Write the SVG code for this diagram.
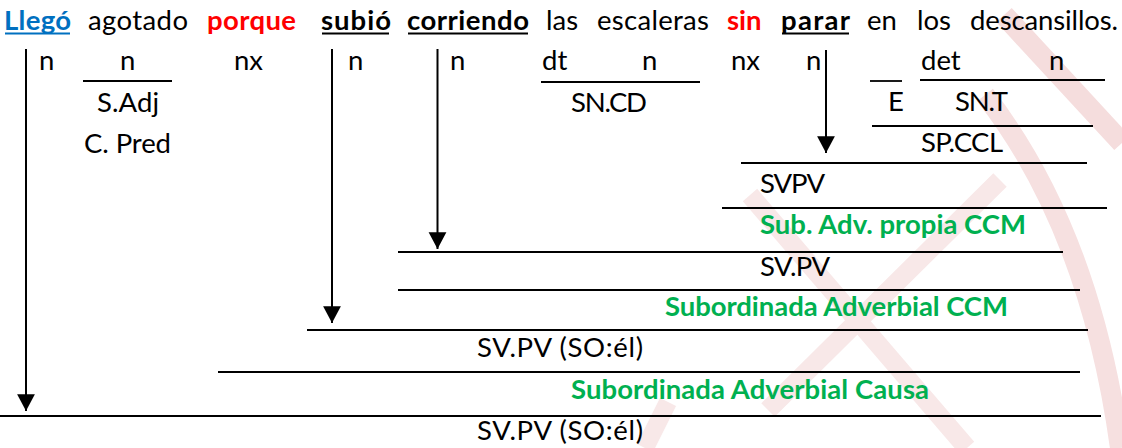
<svg xmlns="http://www.w3.org/2000/svg" width="1122" height="448" viewBox="0 0 1122 448">
<style>
text{font-family:Lato,"Open Sans","Liberation Sans",sans-serif;font-size:27.5px;fill:#000}
.b{font-weight:bold}
.blue{fill:#0070C0}
.red{fill:#FF0000}
.green{fill:#00B050;font-weight:bold}
.ln{stroke:#000;stroke-width:1.8;fill:none}
.ar{stroke:#000;stroke-width:2;fill:none;marker-end:url(#ah)}
.wm{fill:none;stroke-linecap:butt}
</style>
<defs>
<marker id="ah" markerUnits="userSpaceOnUse" markerWidth="20" markerHeight="20" viewBox="0 -9 16 18" refX="15" refY="0" orient="auto" overflow="visible">
<path d="M0,-8 L15,0 L0,8 z" fill="#000"/>
</marker>
</defs>
<rect width="1122" height="448" fill="#fff"/>
<g id="watermark" class="wm">
<path d="M1004 15 L1122 143" stroke="#f5dddd" stroke-width="21"/>
<path d="M985 95 Q1090 230 1120 448" stroke="#f6e0e0" stroke-width="20"/>
<path d="M750 195 L967 448" stroke="#f8e8e8" stroke-width="19"/>
<path d="M1000 180 L768 410" stroke="#f8e8e8" stroke-width="19"/>
<path d="M668 402 L645 448" stroke="#f8e8e8" stroke-width="18"/>
</g>
<g id="connectors">
<line class="ln" x1="83" y1="81" x2="172" y2="81"/>
<line class="ln" x1="541" y1="82" x2="700" y2="82"/>
<line class="ln" x1="870" y1="81" x2="902" y2="81"/>
<line class="ln" x1="920" y1="80" x2="1105" y2="80"/>
<line class="ln" x1="872" y1="126" x2="1093" y2="126"/>
<line class="ln" x1="741" y1="163" x2="1087" y2="163"/>
<line class="ln" x1="722" y1="208" x2="1107" y2="208"/>
<line class="ln" x1="398" y1="252" x2="1063" y2="252"/>
<line class="ln" x1="398" y1="290" x2="1080" y2="290"/>
<line class="ln" x1="307" y1="330" x2="1088" y2="330"/>
<line class="ln" x1="218" y1="372" x2="1080" y2="372"/>
<line class="ln" x1="0" y1="416" x2="1101" y2="416"/>
<line class="ar" x1="26" y1="49" x2="26" y2="411"/>
<line class="ar" x1="332" y1="49" x2="332" y2="323"/>
<line class="ar" x1="437.5" y1="49" x2="437.5" y2="249"/>
<line class="ar" x1="826" y1="50" x2="826" y2="153"/>
</g>
<g id="sentence">
<text x="4" y="30" class="b blue" textLength="67">Llegó</text>
<rect x="5" y="32.5" width="65" height="2" fill="#0070C0"/>
<text x="88" y="30" textLength="100">agotado</text>
<text x="207" y="30" class="b red" textLength="89">porque</text>
<text x="321" y="30" class="b" textLength="70">subió</text>
<rect x="322" y="32.5" width="67" height="2" fill="#000"/>
<text x="407" y="30" class="b" textLength="122">corriendo</text>
<rect x="408" y="32.5" width="120" height="2" fill="#000"/>
<text x="546" y="30">las</text>
<text x="597" y="30" textLength="112">escaleras</text>
<text x="727" y="30" class="b red">sin</text>
<text x="781" y="30" class="b" textLength="69">parar</text>
<rect x="782" y="32.5" width="67" height="2" fill="#000"/>
<text x="867" y="30">en</text>
<text x="917" y="30">los</text>
<text x="970" y="30" textLength="148">descansillos.</text>
</g>
<g id="n-llego"><text x="39" y="70">n</text></g>
<g id="n-agotado"><text x="120" y="70">n</text><text x="97" y="112" textLength="62">S.Adj</text><text x="84" y="153" textLength="87">C. Pred</text></g>
<g id="nx-porque"><text x="234" y="70">nx</text></g>
<g id="n-subio"><text x="348" y="70">n</text></g>
<g id="n-corriendo"><text x="450" y="70">n</text></g>
<g id="sn-cd"><text x="542" y="70">dt</text><text x="642" y="70">n</text><text x="571" y="112" textLength="76">SN.CD</text></g>
<g id="nx-sin"><text x="731" y="70">nx</text></g>
<g id="n-parar"><text x="806" y="70">n</text></g>
<g id="sp-ccl"><text x="921" y="70">det</text><text x="1049" y="70">n</text><text x="888" y="111">E</text><text x="955" y="111" textLength="53">SN.T</text><text x="921" y="152" textLength="82">SP.CCL</text></g>
<g id="svpv"><text x="760" y="193" textLength="65">SVPV</text></g>
<g id="sub-adv-propia"><text x="760" y="234" class="green" textLength="266">Sub. Adv. propia CCM</text></g>
<g id="svpv2"><text x="760" y="276" textLength="70">SV.PV</text></g>
<g id="sub-adv-ccm"><text x="665" y="316" class="green" textLength="343">Subordinada Adverbial CCM</text></g>
<g id="svpv-so1"><text x="477" y="357" textLength="166">SV.PV (SO:él)</text></g>
<g id="sub-adv-causa"><text x="571" y="399" class="green" textLength="358">Subordinada Adverbial Causa</text></g>
<g id="svpv-so2"><text x="477" y="440" textLength="166">SV.PV (SO:él)</text></g>
</svg>
